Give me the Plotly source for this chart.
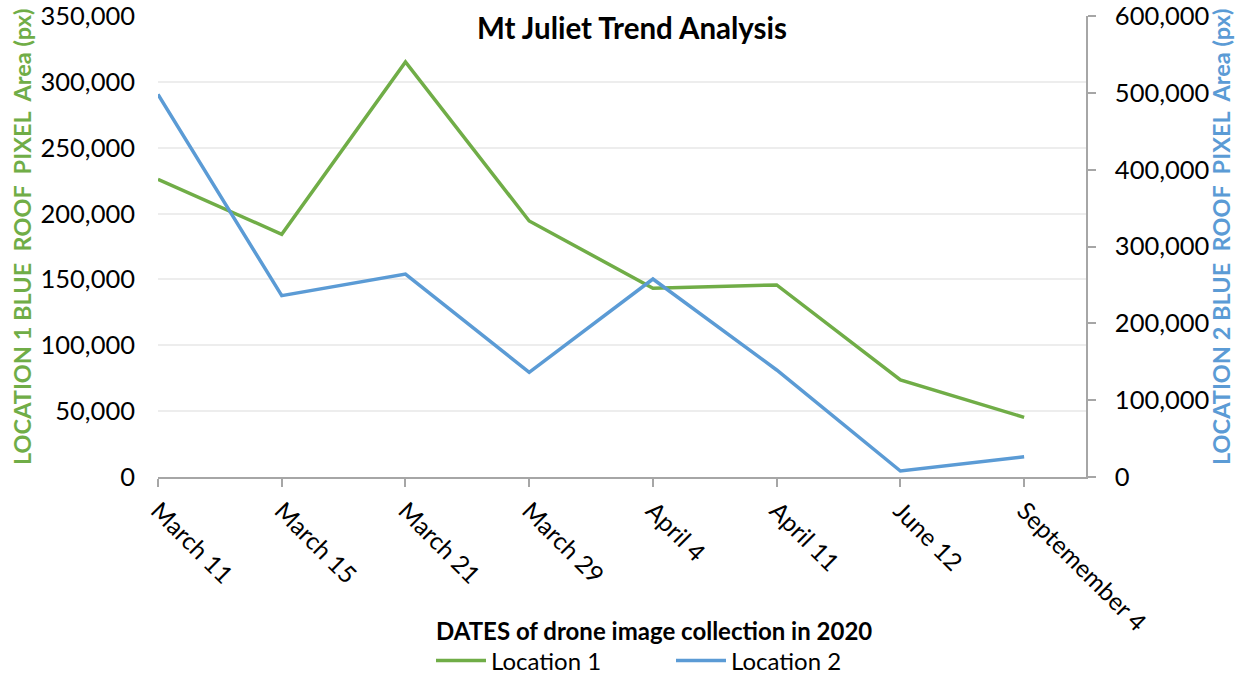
import plotly.graph_objects as go

dates = ["March 11", "March 15", "March 21", "March 29", "April 4", "April 11", "June 12", "Septemember 4"]
location1 = [226000, 184300, 315100, 194400, 143300, 145800, 73700, 45300]
location2 = [498000, 236000, 264200, 136200, 257700, 139300, 7800, 26400]

left_ticks = [0, 50000, 100000, 150000, 200000, 250000, 300000, 350000]
right_ticks = [0, 100000, 200000, 300000, 400000, 500000, 600000]

GREEN = "#70AD47"
BLUE = "#5B9BD5"
FONT = "Lato"
TICK_SIZE = 25.5

x_idx = list(range(len(dates)))

fig = go.Figure()
fig.add_trace(go.Scatter(x=x_idx, y=location1, name="Location 1", mode="lines",
                         line=dict(color=GREEN, width=3.5)))
fig.add_trace(go.Scatter(x=x_idx, y=location2, name="Location 2", mode="lines",
                         line=dict(color=BLUE, width=3.5), yaxis="y2"))

fig.update_layout(
    width=1239, height=674,
    margin=dict(l=158, r=153, t=16, b=197, autoexpand=False),
    paper_bgcolor="white", plot_bgcolor="white",
    font=dict(family=FONT, color="black"),
    showlegend=True,
    legend=dict(orientation="h", x=(431 - 158) / 928, xanchor="left",
                yref="container", y=(674 - 661) / 674, yanchor="middle",
                font=dict(size=24, family=FONT), itemwidth=50,
                entrywidth=175, entrywidthmode="pixels",
                bgcolor="rgba(0,0,0,0)"),
    xaxis=dict(
        range=[0, 7.5], tickmode="array", tickvals=x_idx, ticktext=dates,
        tickangle=45, tickfont=dict(size=24.5, family=FONT),
        showgrid=False, zeroline=False, showline=True, linecolor="#A6A6A6", linewidth=1.5,
        ticks="outside", ticklen=8, tickcolor="#A6A6A6", tickwidth=1.5, automargin=False,
        ticklabeloverflow="allow",
    ),
    yaxis=dict(
        range=[0, 350000], tickmode="array", tickvals=left_ticks,
        ticktext=[f"{v:,}" for v in left_ticks], tickfont=dict(size=TICK_SIZE, family=FONT),
        showgrid=True, gridcolor="#EDEDED", gridwidth=1.5, zeroline=False,
        showline=False, ticks="", ticklabelstandoff=22, automargin=False,
        ticklabeloverflow="allow",
    ),
    yaxis2=dict(
        range=[0, 600000], overlaying="y", side="right", tickmode="array",
        tickvals=right_ticks, ticktext=[f"{v:,}" for v in right_ticks],
        tickfont=dict(size=TICK_SIZE, family=FONT), showgrid=False, zeroline=False,
        showline=True, linecolor="#A6A6A6", linewidth=1.5,
        ticks="outside", ticklen=8, tickcolor="#A6A6A6", tickwidth=1.5,
        ticklabelstandoff=14, automargin=False, ticklabeloverflow="allow",
    ),
)

fig.add_annotation(text="<b>Mt Juliet Trend Analysis</b>", xref="paper", yref="paper",
                   x=(632 - 158) / 928, y=1 - (27 - 16) / 461, xanchor="center", yanchor="middle",
                   showarrow=False, font=dict(size=29.5, family=FONT, color="black"))
fig.add_annotation(text="<b>DATES of drone image collection in 2020</b>", xref="paper", yref="paper",
                   x=(654 - 158) / 928, y=-(630 - 477) / 461, xanchor="center", yanchor="middle",
                   showarrow=False, font=dict(size=24, family=FONT, color="black"))
fig.add_annotation(text="<b>LOCATION 1 BLUE  ROOF  PIXEL  Area (px)</b>", xref="paper", yref="paper",
                   x=(22 - 158) / 928, y=1 - (237 - 16) / 461, xanchor="center", yanchor="middle",
                   textangle=-90, showarrow=False, font=dict(size=23.5, family=FONT, color=GREEN))
fig.add_annotation(text="<b>LOCATION 2 BLUE  ROOF  PIXEL  Area (px)</b>", xref="paper", yref="paper",
                   x=(1221 - 158) / 928, y=1 - (237 - 16) / 461, xanchor="center", yanchor="middle",
                   textangle=-90, showarrow=False, font=dict(size=23.5, family=FONT, color=BLUE))

fig.write_html("out.html")
